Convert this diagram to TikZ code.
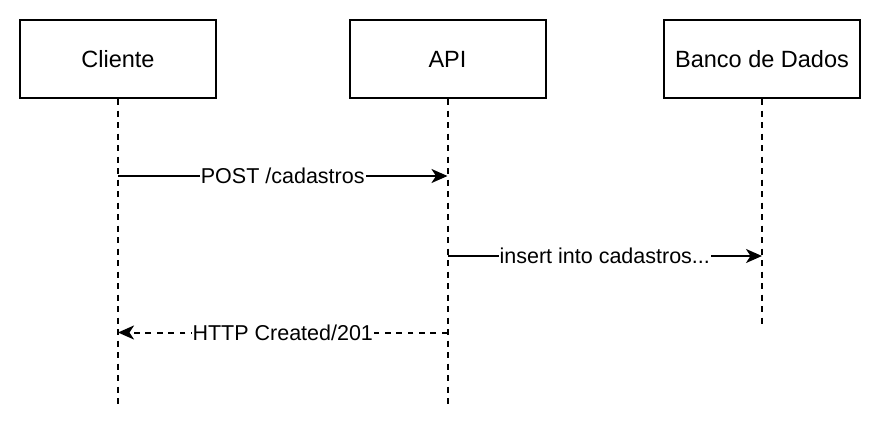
\documentclass[tikz,border=0pt]{standalone}
\usepackage{fontspec}
\setmainfont{Liberation Sans}
\usetikzlibrary{arrows.meta}
\begin{document}
\begin{tikzpicture}[x=1pt,y=-1pt,
  actor/.style={draw, line width=2pt, minimum width=196pt, minimum height=78pt, inner sep=0pt, font=\fontsize{23.5}{26}\selectfont},
  life/.style={line width=2pt, dash pattern=on 6pt off 5.5pt},
  msg/.style={line width=2pt, -{Stealth[length=16pt,width=14pt,inset=4.5pt]}},
  ret/.style={msg, dash pattern=on 5.7pt off 5.7pt},
  lbl/.style={fill=white, inner sep=1pt, font=\fontsize{21.5}{24}\selectfont}]
\useasboundingbox (0,0) rectangle (880,431);
\node[actor] (cli) at (118,59) {Cliente};
\node[actor] (api) at (447.5,59) {API};
\node[actor] (db) at (762,59) {Banco de Dados};
\coordinate (cliEnd) at (118,409);
\coordinate (apiEnd) at (447.5,409);
\coordinate (dbEnd) at (762,327);
\draw[life] (cli.south) -- (cliEnd);
\draw[life] (api.south) -- (apiEnd);
\draw[life] (db.south) -- (dbEnd);
\coordinate (c1) at (118,176);
\coordinate (a1) at (447.5,176);
\coordinate (a2) at (447.5,256);
\coordinate (d2) at (762,256);
\coordinate (a3) at (447.5,332.5);
\coordinate (c3) at (118,332.5);
\draw[msg] (c1) -- node[lbl] {POST /cadastros} (a1);
\draw[msg] (a2) -- node[lbl] {insert into cadastros...} (d2);
\draw[ret] (a3) -- node[lbl] {HTTP Created/201} (c3);
\end{tikzpicture}
\end{document}
